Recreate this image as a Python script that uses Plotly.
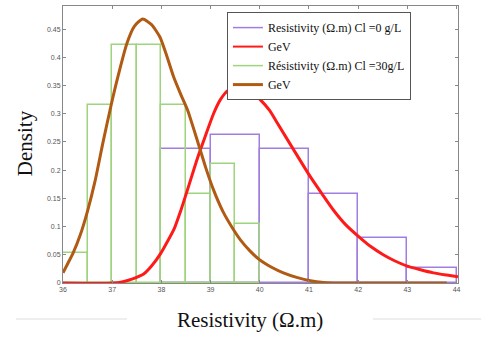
import plotly.graph_objects as go

# Histogram data (densities)
green_edges = [36.0, 36.5, 37.0, 37.5, 38.0, 38.5, 39.0, 39.5, 40.0]
green_dens = [0.0526, 0.3158, 0.4211, 0.4211, 0.3158, 0.1579, 0.2105, 0.1053]

purple_edges = [38.0, 39.0, 40.0, 41.0, 42.0, 43.0, 44.0]
purple_dens = [0.2368, 0.2632, 0.2368, 0.1579, 0.0789, 0.0263]

# Fitted GEV curves
red_x = [36.0, 37.0, 37.2, 37.4, 37.64, 37.8, 37.99, 38.1, 38.25, 38.4, 38.53, 38.74, 38.9,
         39.06, 39.2, 39.35, 39.57, 39.8, 40.0, 40.2, 40.36, 40.69, 41.03, 41.25, 41.5, 41.75,
         42.04, 42.25, 42.51, 42.75, 43.0, 43.25, 43.53, 43.8, 44.03]
red_y = [0.0, 0.0, 0.002, 0.007, 0.016, 0.030, 0.053, 0.070, 0.094, 0.130, 0.165, 0.223, 0.262,
         0.300, 0.325, 0.341, 0.350, 0.342, 0.326, 0.306, 0.283, 0.236, 0.188, 0.160, 0.129, 0.103,
         0.080, 0.065, 0.050, 0.039, 0.030, 0.024, 0.018, 0.014, 0.011]

brown_x = [36.0, 36.1, 36.2, 36.35, 36.5, 36.65, 36.81, 36.97, 37.1, 37.3, 37.45, 37.62, 37.8,
           37.97, 38.1, 38.25, 38.4, 38.53, 38.74, 38.9, 39.06, 39.25, 39.47, 39.61, 39.8, 40.0,
           40.24, 40.48, 40.75, 41.03, 41.3, 41.6, 43.8]
brown_y = [0.018, 0.035, 0.052, 0.085, 0.128, 0.180, 0.248, 0.312, 0.360, 0.425, 0.455, 0.468,
           0.458, 0.436, 0.405, 0.365, 0.333, 0.307, 0.250, 0.205, 0.165, 0.127, 0.094, 0.076,
           0.057, 0.041, 0.028, 0.018, 0.010, 0.004, 0.001, 0.0, 0.0]

x_ticks = [36, 37, 38, 39, 40, 41, 42, 43, 44]
legend_names = ["Resistivity (\u03a9.m) Cl =0 g/L", "GeV",
                "R\u00e9sistivity (\u03a9.m) Cl =30g/L", "GeV"]

PURPLE = "#a07ee0"
RED = "#ff1a1a"
GREEN = "#9fd47f"
BROWN = "#b05a14"

def centers(edges):
    return [(a + b) / 2 for a, b in zip(edges[:-1], edges[1:])]

def widths(edges):
    return [b - a for a, b in zip(edges[:-1], edges[1:])]

fig = go.Figure()

fig.add_trace(go.Bar(x=centers(purple_edges), y=purple_dens, width=widths(purple_edges),
                     marker=dict(color="rgba(0,0,0,0)", line=dict(color=PURPLE, width=1.5)),
                     showlegend=False, hoverinfo="skip"))
fig.add_trace(go.Bar(x=centers(green_edges), y=green_dens, width=widths(green_edges),
                     marker=dict(color="rgba(0,0,0,0)", line=dict(color=GREEN, width=1.5)),
                     showlegend=False, hoverinfo="skip"))

fig.add_trace(go.Scatter(x=red_x, y=red_y, mode="lines",
                         line=dict(color=RED, width=3, shape="spline", smoothing=0.6),
                         showlegend=False))
fig.add_trace(go.Scatter(x=brown_x, y=brown_y, mode="lines",
                         line=dict(color=BROWN, width=3, shape="spline", smoothing=0.6),
                         showlegend=False))

# legend entries
for name, col, w in zip(legend_names, [PURPLE, RED, GREEN, BROWN], [1.5, 2, 1.5, 3]):
    fig.add_trace(go.Scatter(x=[None], y=[None], mode="lines", name=name,
                             line=dict(color=col, width=w)))

fig.update_layout(
    width=481, height=340,
    margin=dict(l=63, r=23, t=6, b=57),
    paper_bgcolor="white", plot_bgcolor="white",
    barmode="overlay", bargap=0,
    font=dict(family="Liberation Serif", color="#000"),
    legend=dict(x=0.415, y=0.978, xanchor="left", yanchor="top",
                bordercolor="#555", borderwidth=1, bgcolor="white",
                font=dict(family="Liberation Serif", size=12, color="#111"),
                itemwidth=30, tracegroupgap=0),
    showlegend=True,
)

fig.update_xaxes(range=[36, 44.03], tickvals=x_ticks, ticktext=[str(v) for v in x_ticks],
                 showgrid=False, zeroline=False, showline=True, linecolor="#888", linewidth=1,
                 mirror="ticks", ticks="inside", ticklen=3, tickcolor="#888",
                 tickfont=dict(size=7, color="#555", family="Liberation Sans"))
fig.update_yaxes(range=[0, 0.491], dtick=0.05, tick0=0,
                 showgrid=False, zeroline=False, showline=True, linecolor="#888", linewidth=1,
                 mirror="ticks", ticks="inside", ticklen=3, tickcolor="#888",
                 tickfont=dict(size=7, color="#555", family="Liberation Sans"))

fig.add_annotation(text="Resistivity (\u03a9.m)", xref="paper", yref="paper", x=0.473, y=-0.134,
                   xanchor="center", yanchor="middle", showarrow=False,
                   font=dict(family="Liberation Serif", size=21, color="#111"))
fig.add_annotation(text="Density", xref="paper", yref="paper", x=-0.096, y=0.505,
                   xanchor="center", yanchor="middle", showarrow=False, textangle=-90,
                   font=dict(family="Liberation Serif", size=21, color="#111"))

fig.add_shape(type="line", xref="paper", yref="paper", x0=-0.119, x1=0.162, y0=-0.130, y1=-0.130,
              line=dict(color="#dddddd", width=1))
fig.add_shape(type="line", xref="paper", yref="paper", x0=0.785, x1=1.06, y0=-0.130, y1=-0.130,
              line=dict(color="#dddddd", width=1))

fig.write_html("out.html")
